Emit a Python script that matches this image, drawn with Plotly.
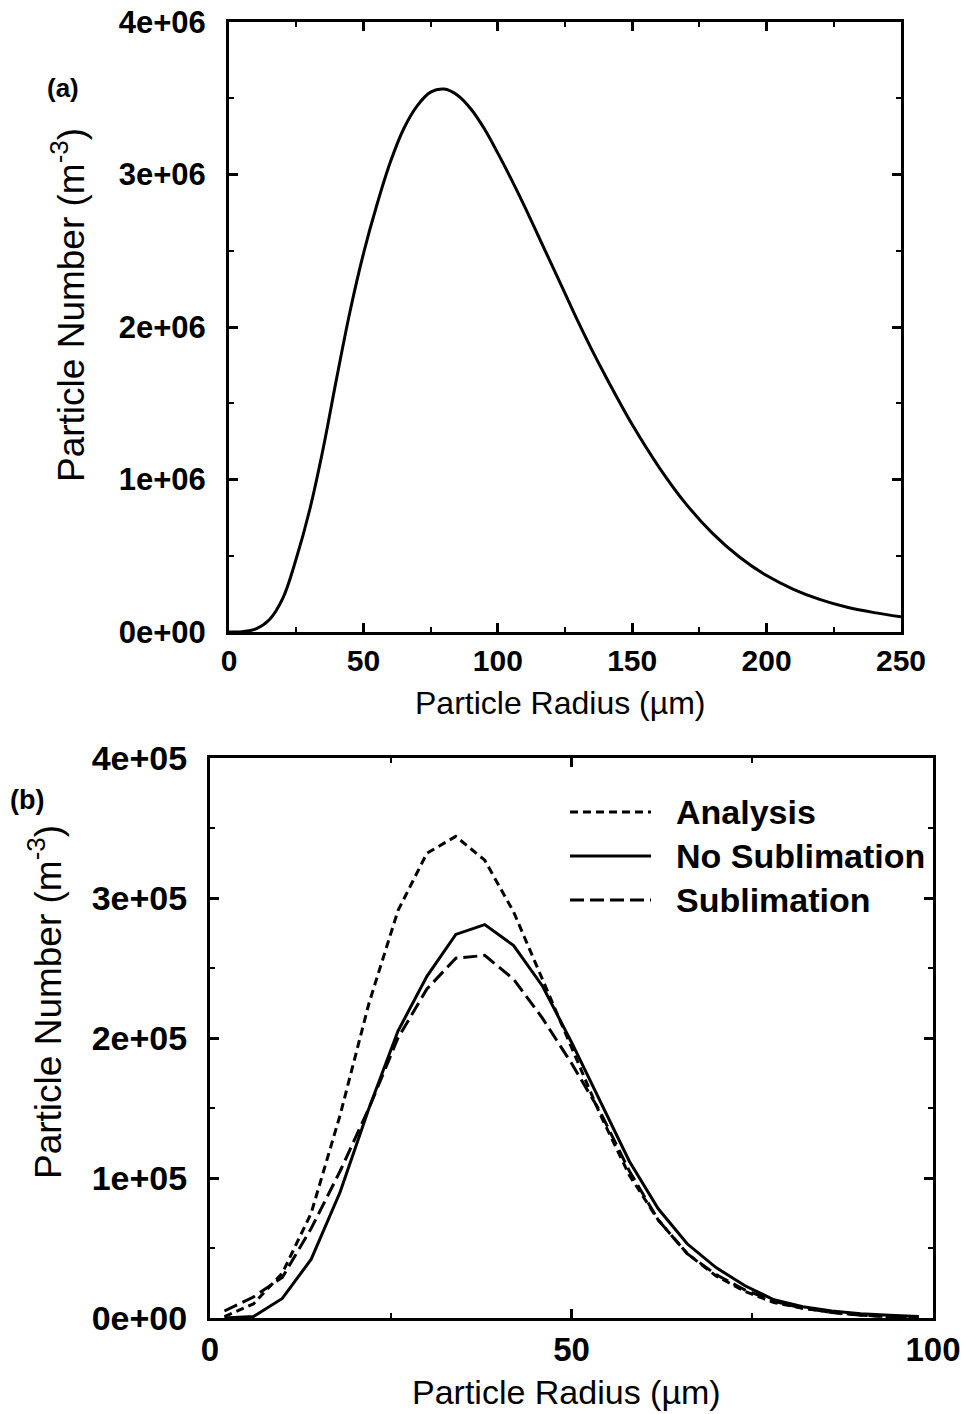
import plotly.graph_objects as go

# ---------------- data ----------------
# Panel (a): particle size distribution
radius_a = [0, 5, 10, 15, 20, 25, 30, 35, 40, 45, 50, 55, 60, 65, 70, 75, 80, 85, 90, 95,
            100, 105, 110, 115, 120, 125, 130, 135, 140, 150, 160, 170, 180, 190, 200,
            210, 220, 230, 240, 250]
number_a = [0, 0.002e6, 0.02e6, 0.08e6, 0.22e6, 0.48e6, 0.80e6, 1.20e6, 1.66e6, 2.10e6,
            2.48e6, 2.80e6, 3.08e6, 3.30e6, 3.45e6, 3.54e6, 3.56e6, 3.52e6, 3.43e6, 3.30e6,
            3.14e6, 2.97e6, 2.79e6, 2.60e6, 2.41e6, 2.22e6, 2.03e6, 1.85e6, 1.68e6, 1.36e6,
            1.08e6, 0.84e6, 0.645e6, 0.49e6, 0.37e6, 0.28e6, 0.212e6, 0.162e6, 0.127e6, 0.10e6]

# Panel (b): three series
radius_b = [2, 6, 10, 14, 18, 22, 26, 30, 34, 38, 42, 46, 50, 54, 58, 62, 66, 70, 74, 78,
            82, 86, 90, 94, 98]
analysis = [0.01e5, 0.10e5, 0.32e5, 0.75e5, 1.45e5, 2.25e5, 2.91e5, 3.32e5, 3.44e5, 3.27e5,
            2.90e5, 2.42e5, 1.93e5, 1.45e5, 1.02e5, 0.70e5, 0.46e5, 0.30e5, 0.19e5, 0.11e5,
            0.07e5, 0.04e5, 0.02e5, 0.01e5, 0.01e5]
no_sublimation = [0.0, 0.01e5, 0.14e5, 0.42e5, 0.90e5, 1.50e5, 2.05e5, 2.44e5, 2.74e5, 2.81e5,
                  2.66e5, 2.37e5, 1.97e5, 1.54e5, 1.12e5, 0.78e5, 0.53e5, 0.36e5, 0.23e5, 0.13e5,
                  0.08e5, 0.05e5, 0.03e5, 0.02e5, 0.01e5]
sublimation = [0.05e5, 0.15e5, 0.29e5, 0.64e5, 1.05e5, 1.50e5, 2.00e5, 2.35e5, 2.57e5, 2.59e5,
               2.42e5, 2.14e5, 1.82e5, 1.47e5, 1.05e5, 0.70e5, 0.46e5, 0.31e5, 0.20e5, 0.12e5,
               0.07e5, 0.04e5, 0.02e5, 0.01e5, 0.01e5]

series_names = ["Analysis", "No Sublimation", "Sublimation"]

xticks_a = [0, 50, 100, 150, 200, 250]
yticks_a = [0, 1e6, 2e6, 3e6, 4e6]
yticklabels_a = ["0e+00", "1e+06", "2e+06", "3e+06", "4e+06"]
xticks_b = [0, 50, 100]
yticks_b = [0, 1e5, 2e5, 3e5, 4e5]
yticklabels_b = ["0e+00", "1e+05", "2e+05", "3e+05", "4e+05"]

# ---------------- figure ----------------
W, H = 966, 1414
FONT = "Liberation Sans, Arial, Helvetica, sans-serif"
dashes = ["8px,5px", "solid", "14px,6px"]

fig = go.Figure()
fig.add_trace(go.Scatter(x=radius_a, y=number_a, mode="lines",
                         line=dict(color="black", width=3, shape="spline", smoothing=1.0),
                         xaxis="x", yaxis="y", showlegend=False, hoverinfo="skip"))
for name, vals, dash in zip(series_names, [analysis, no_sublimation, sublimation], dashes):
    fig.add_trace(go.Scatter(x=radius_b, y=vals, mode="lines", name=name,
                             line=dict(color="black", width=3, dash=dash),
                             xaxis="x2", yaxis="y2", showlegend=False, hoverinfo="skip"))

def px_x(p):
    return p / W

def px_y(p):
    return 1 - p / H

common = dict(showline=True, linecolor="black", linewidth=3, mirror="ticks", ticks="inside",
              ticklen=9, tickwidth=2.5, tickcolor="black", showgrid=False, zeroline=False,
              automargin=False)

def minor(dt):
    return dict(ticks="inside", ticklen=5, tickwidth=2, tickcolor="black", dtick=dt, tick0=0, showgrid=False)

fig.update_layout(
    template="none",
    width=W, height=H, margin=dict(l=0, r=0, t=0, b=0, pad=0), autosize=False,
    paper_bgcolor="white", plot_bgcolor="white",
    font=dict(family=FONT, color="black"),
    xaxis=dict(domain=[px_x(229), px_x(901)], range=[0, 250], anchor="y", tickvals=xticks_a,
               tickfont=dict(size=30, weight="bold"), minor=minor(25), **common),
    yaxis=dict(domain=[px_y(632), px_y(22)], range=[0, 4e6], anchor="x", tickvals=yticks_a,
               ticktext=yticklabels_a, tickfont=dict(size=31, weight="bold"),
               ticklabelstandoff=14, minor=minor(0.5e6), **common),
    xaxis2=dict(domain=[px_x(210), px_x(933)], range=[0, 100], anchor="y2", tickvals=xticks_b,
                tickfont=dict(size=33, weight="bold"), minor=minor(25), **common),
    yaxis2=dict(domain=[px_y(1318), px_y(758)], range=[0, 4e5], anchor="x2", tickvals=yticks_b,
                ticktext=yticklabels_b, tickfont=dict(size=34, weight="bold"),
                ticklabelstandoff=13, minor=minor(0.5e5), **common),
)

ann = []
# axis titles
ann.append(dict(text="Particle Radius (µm)", x=px_x(560), y=px_y(703), xref="paper", yref="paper",
                showarrow=False, font=dict(size=32), xanchor="center", yanchor="middle"))
ann.append(dict(text="Particle Number (m<sup>-3</sup>)", x=px_x(68), y=px_y(305), xref="paper", yref="paper",
                showarrow=False, font=dict(size=37), textangle=-90, xanchor="center", yanchor="middle"))
ann.append(dict(text="Particle Radius (µm)", x=px_x(566), y=px_y(1392), xref="paper", yref="paper",
                showarrow=False, font=dict(size=34), xanchor="center", yanchor="middle"))
ann.append(dict(text="Particle Number (m<sup>-3</sup>)", x=px_x(45), y=px_y(1002), xref="paper", yref="paper",
                showarrow=False, font=dict(size=37), textangle=-90, xanchor="center", yanchor="middle"))
# panel labels
ann.append(dict(text="(a)", x=px_x(63), y=px_y(88), xref="paper", yref="paper", showarrow=False,
                font=dict(size=26, weight="bold"), xanchor="center", yanchor="middle"))
ann.append(dict(text="(b)", x=px_x(27), y=px_y(800), xref="paper", yref="paper", showarrow=False,
                font=dict(size=27, weight="bold"), xanchor="center", yanchor="middle"))

# manual legend
shapes = []
legend_rows = [812, 856, 900]
for name, dash, yy in zip(series_names, dashes, legend_rows):
    shapes.append(dict(type="line", xref="paper", yref="paper", x0=px_x(570), x1=px_x(651),
                       y0=px_y(yy), y1=px_y(yy), line=dict(color="black", width=3, dash=dash)))
    ann.append(dict(text=name, x=px_x(674), y=px_y(yy), xref="paper", yref="paper", showarrow=False,
                    font=dict(size=34, weight="bold"), xanchor="left", yanchor="middle"))

fig.update_layout(annotations=ann, shapes=shapes)
fig.write_html("out.html")
